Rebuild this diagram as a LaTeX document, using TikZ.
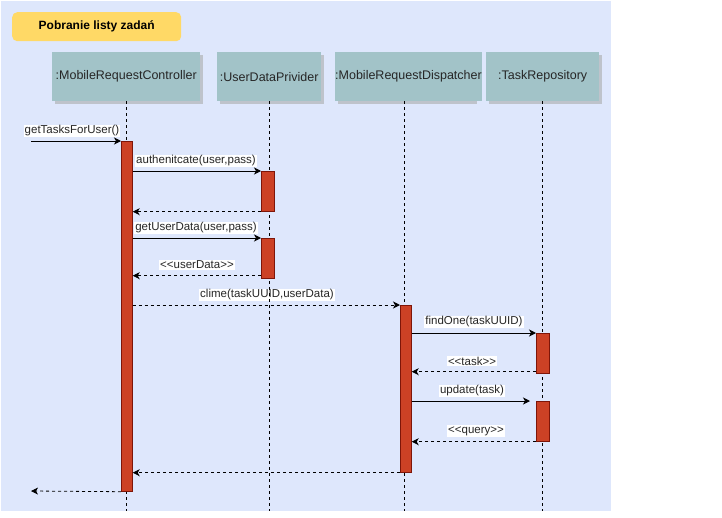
\documentclass[tikz,border=0pt]{standalone}
\usepackage{fontspec}
\setmainfont{Liberation Sans}[Ligatures=TeXOff]
\usetikzlibrary{arrows.meta}
\definecolor{bgblue}{HTML}{DEE7FC}
\definecolor{headfill}{HTML}{A2C3C8}
\definecolor{headshadow}{HTML}{BEC3CB}
\definecolor{titlefill}{HTML}{FFD966}
\definecolor{barfill}{HTML}{CC4125}
\definecolor{barline}{HTML}{7E1508}
\tikzset{
  head/.style={fill=headfill, inner sep=0pt, anchor=north west, minimum height=49pt,
    font=\fontsize{12.5}{14}\selectfont, text=black!85},
  headshade/.style={fill=headshadow, inner sep=0pt, anchor=north west, minimum height=49pt},
  lifeline/.style={draw=black, dash pattern=on 3pt off 3pt, line width=0.8pt},
  actbar/.style={fill=barfill, draw=barline, line width=0.7pt, inner sep=0pt,
    anchor=north west, minimum width=11pt},
  call/.style={draw=black, line width=0.8pt, -{Stealth[length=7pt,width=7pt,inset=2pt]}},
  reply/.style={call, dash pattern=on 3pt off 3pt},
  msglabel/.style={fill=white, inner sep=1pt, font=\fontsize{11.5}{13}\selectfont, text=black!85},
}
\begin{document}
\begin{tikzpicture}[x=1pt, y=-1pt]
  \useasboundingbox (0,0) rectangle (722,517);
  % frame
  \fill[bgblue] (1,1) rectangle (611,511);
  \node[fill=titlefill, rounded corners=5pt, inner sep=0pt, anchor=north west,
        minimum width=169pt, minimum height=29pt, font=\fontsize{12}{14}\selectfont\bfseries]
        (title) at (12,12) {Pobranie listy zadań};

  % lifeline heads with drop shadows
  \node[headshade, minimum width=148pt] (s1) at (55,55) {};
  \node[headshade, minimum width=104pt] (s2) at (220,55) {};
  \node[headshade, minimum width=139pt] (s3) at (338,55) {};
  \node[headshade, minimum width=113pt] (s4) at (489,55) {};
  \node[head, minimum width=148pt] (h1) at (52,52) {:MobileRequestController};
  \node[head, minimum width=104pt] (h2) at (217,52) {:UserDataPrivider};
  \node[head, minimum width=139pt] (h3) at (335,52) {:MobileRequestDispatcher};
  \node[head, minimum width=113pt] (h4) at (486,52) {:TaskRepository};

  % message labels
  \node[msglabel] (l1) at (72,131) {getTasksForUser()};
  \node[msglabel] (l2) at (196,161) {authenitcate(user,pass)};
  \node[msglabel] (l4) at (196,228) {getUserData(user,pass)};
  \node[msglabel] (l5) at (197,265) {<<userData>>};
  \node[msglabel] (l6) at (267,295) {clime(taskUUID,userData)};
  \node[msglabel] (l7) at (474,322) {findOne(taskUUID)};
  \node[msglabel] (l8) at (472,361) {<<task>>};
  \node[msglabel] (l9) at (472,391) {update(task)};
  \node[msglabel] (l10) at (476,431) {<<query>>};

  % lifelines
  \coordinate (e1) at (126,511);
  \coordinate (e2) at (269,511);
  \coordinate (e3) at (404.5,511);
  \coordinate (e4) at (542.5,511);
  \draw[lifeline] (h1.south -| e1) -- (e1);
  \draw[lifeline] (h2.south -| e2) -- (e2);
  \draw[lifeline] (h3.south -| e3) -- (e3);
  \draw[lifeline] (h4.south -| e4) -- (e4);

  % activation bars
  \node[actbar, minimum height=350pt] (a1) at (121,141) {};
  \node[actbar, minimum width=13pt, minimum height=40pt] (a2) at (261,171) {};
  \node[actbar, minimum width=13pt, minimum height=40pt] (a3) at (261,238) {};
  \node[actbar, minimum height=167pt] (a4) at (400,305) {};
  \node[actbar, minimum width=13pt, minimum height=40pt] (a5) at (536,333) {};
  \node[actbar, minimum width=13pt, minimum height=40pt] (a6) at (536,401) {};

  % free ends of the found and lost messages, and offset reply starts
  \coordinate (in) at (31,141);
  \coordinate (out) at (31,491);
  \coordinate (r3) at ([yshift=3pt]a3.south west);
  \coordinate (r5) at ([yshift=2pt]a5.south west);
  \coordinate (t6) at ([xshift=-6pt]a6.north west);

  % messages
  \draw[call] (in) -- (a1.north west);
  \draw[call] (a1.east |- a2.north west) -- (a2.north west);
  \draw[reply] (a2.south west) -- (a1.east |- a2.south west);
  \draw[call] (a1.east |- a3.north west) -- (a3.north west);
  \draw[reply] (r3) -- (a1.east |- r3);
  \draw[reply] (a1.east |- a4.north west) -- (a4.north west);
  \draw[call] (a4.east |- a5.north west) -- (a5.north west);
  \draw[reply] (r5) -- (a4.east |- r5);
  \draw[call] (a4.east |- a6.north west) -- (t6);
  \draw[reply] (a6.south west) -- (a4.east |- a6.south west);
  \draw[reply] (a4.south west) -- (a1.east |- a4.south west);
  \draw[reply] (a1.south west) -- (out);
\end{tikzpicture}
\end{document}
